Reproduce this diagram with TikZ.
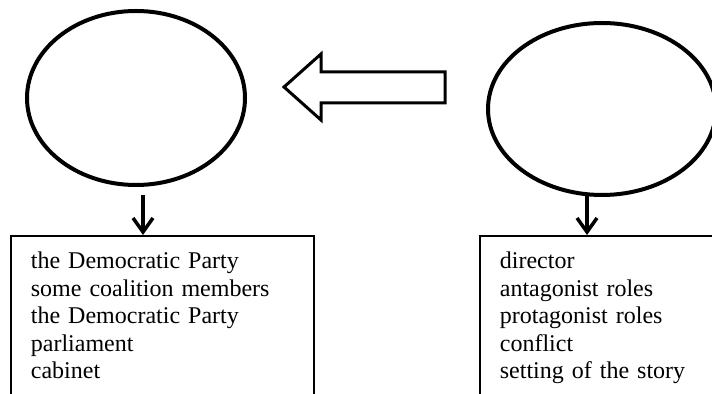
\documentclass[tikz,border=0pt]{standalone}
\usepackage{fontspec}
\setmainfont{Liberation Serif}
\usetikzlibrary{shapes.geometric}
\usetikzlibrary{arrows.meta}
\usetikzlibrary{positioning}

\begin{document}
\begin{tikzpicture}[x=0.5pt, y=-0.5pt,
  oval/.style={draw, ellipse, line width=2pt, inner sep=0pt},
  listbox/.style={draw, line width=0.9pt, anchor=north west, align=left, inner xsep=10pt, inner ysep=8pt, font=\fontsize{12}{13.75}\selectfont},
  flow/.style={-{Straight Barb[length=7pt,width=10pt]}, line width=1.75pt}]
\useasboundingbox (0,0) rectangle (712,394);
\clip (0,0) rectangle (712,394);

\coordinate (1) at (136, 98);
\coordinate (2) at (602, 109);

\node(leftoval)[oval, minimum width=109pt, minimum height=87pt] at (1) {};
\node(rightoval)[oval, minimum width=114pt, minimum height=86pt] at (2) {};

\node(leftlist)[listbox, text width=131.5pt] at (10,235) {the Democratic Party\\ some coalition members\\ the Democratic Party\\ parliament\\ cabinet\rule[-20pt]{0pt}{0pt}};
\node(rightlist)[listbox, text width=130pt] at (479,235) {director\\ antagonist roles\\ protagonist roles\\ conflict\\ setting of the story\rule[-20pt]{0pt}{0pt}};

\draw[line width=1.5pt, line join=miter] (284,87) -- (321,54) -- (321,72) -- (445,72) -- (445,103) -- (321,103) -- (321,120) -- cycle;

\coordinate (leftfoot) at ([xshift=3.5pt, yshift=-4pt]leftoval.south);
\coordinate (rightfoot) at ([xshift=-7.5pt, yshift=1pt]rightoval.south);
\draw[flow] (leftfoot) -- (leftfoot |- leftlist.north);
\draw[flow] (rightfoot) -- (rightfoot |- rightlist.north);
\end{tikzpicture}
\end{document}
